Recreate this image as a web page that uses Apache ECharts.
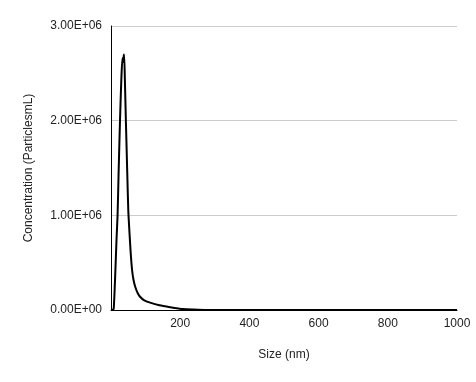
<!DOCTYPE html>
<html>
<head>
<meta charset="utf-8">
<script src="https://cdn.jsdelivr.net/npm/echarts@6/dist/echarts.min.js"></script>
<style>html,body{margin:0;padding:0;background:#fff}#c{width:476px;height:382px}</style>
</head>
<body>
<div id="c"></div>
<script>
var sizes = [1, 5, 8, 12, 16, 19, 22, 26, 30, 33, 35, 37, 38, 40, 43, 47, 50, 54, 57, 61, 65, 70, 77, 84, 95, 113, 140, 171, 208, 240, 272, 400, 600, 800, 1000];
var concentration = [0, 0, 20000, 350000, 750000, 1000000, 1450000, 2000000, 2450000, 2660000, 2620000, 2690000, 2700000, 2450000, 2000000, 1450000, 1050000, 780000, 600000, 420000, 320000, 246000, 180000, 140000, 105000, 78000, 50000, 30000, 10000, 4000, 0, 0, 0, 0, 0];
var yTicks = [0, 1000000, 2000000, 3000000];

var data = sizes.map(function (s, i) { return [s, concentration[i]]; });
var chart = echarts.init(document.getElementById('c'), null, {renderer: 'canvas'});
chart.setOption({
  animation: false,
  backgroundColor: '#ffffff',
  grid: {left: 111, right: 19, top: 26, bottom: 72, containLabel: false},
  xAxis: {
    type: 'value', min: 0, max: 1000, interval: 200,
    name: 'Size (nm)', nameLocation: 'middle', nameGap: 39,
    nameTextStyle: {fontFamily: 'Liberation Sans', fontSize: 12, color: '#222'},
    axisLine: {show: true, lineStyle: {color: '#000', width: 1}},
    axisTick: {show: false},
    splitLine: {show: false},
    axisLabel: {showMinLabel: false, fontFamily: 'Liberation Sans', fontSize: 12, color: '#222', margin: 8,
      formatter: function (v) { return String(v); }}
  },
  yAxis: {
    type: 'value', min: 0, max: 3000000, interval: 1000000,
    name: 'Concentration (ParticlesmL)', nameLocation: 'middle', nameGap: 76, nameRotate: 90,
    nameTextStyle: {fontFamily: 'Liberation Sans', fontSize: 12, color: '#222'},
    axisLine: {show: true, lineStyle: {color: '#000', width: 1}},
    axisTick: {show: false},
    splitLine: {show: true, lineStyle: {color: '#cccccc', width: 1}},
    axisLabel: {
      fontFamily: 'Liberation Sans', fontSize: 12, color: '#222', margin: 9,
      formatter: function (v) {
        if (v === 0) return '0.00E+00';
        var e = Math.floor(Math.log10(v));
        var m = v / Math.pow(10, e);
        return m.toFixed(2) + 'E+' + (e < 10 ? '0' + e : e);
      }
    }
  },
  series: [{
    type: 'line', data: data, showSymbol: false, smooth: 0.2,
    lineStyle: {color: '#000', width: 2}, z: 3
  }]
});
</script>
</body>
</html>
